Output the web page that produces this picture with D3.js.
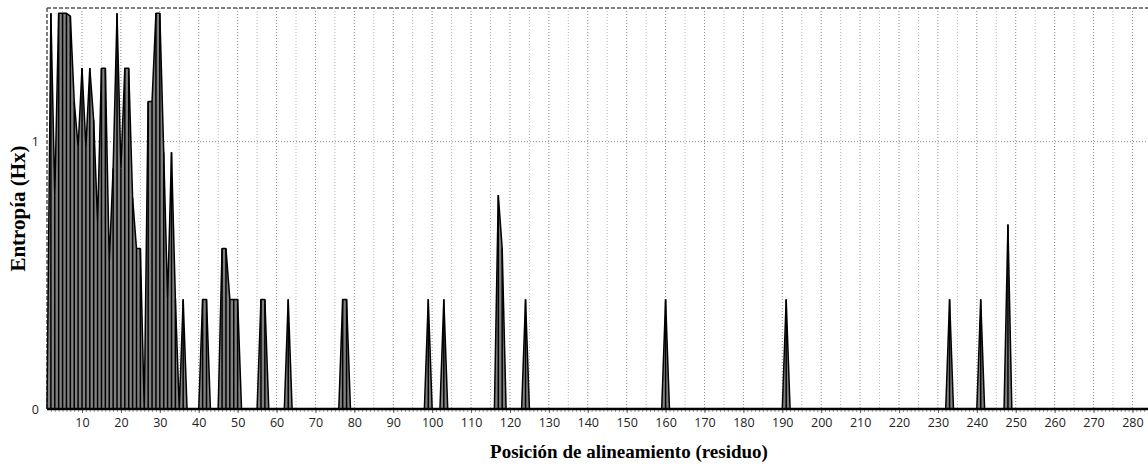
<!DOCTYPE html>
<html lang="en">

<head>
    <meta charset="UTF-8">
    <script src="https://cdn.jsdelivr.net/npm/d3@7"></script>
    <title>Entropia</title>
    <style>
        body {
            margin: 0;
            background: white;
        }

        .tick text {
            font-family: "Open Sans", sans-serif;
            font-size: 12.5px;
            fill: #222;
        }

        .title {
            font-family: "Liberation Serif", "Times New Roman", serif;
            font-weight: bold;
            font-size: 19px;
            fill: black;
        }
    </style>
</head>

<body>
    <div class="fig1"></div>

    <script>
        // posiciones del alineamiento (solo las que rodean picos, el resto es 0)
        const positions = [1, 2, 3, 4, 5, 6, 7, 8, 9, 10, 11, 12, 13, 14, 15, 16, 17, 18, 19, 20,
            21, 22, 23, 24, 25, 26, 27, 28, 29, 30, 31, 32, 33, 34, 35, 36, 37,
            40, 41, 42, 43, 45, 46, 47, 48, 49, 50, 51, 55, 56, 57, 58, 62, 63, 64,
            76, 77, 78, 79, 98, 99, 100, 102, 103, 104, 116, 117, 118, 119, 123, 124, 125,
            159, 160, 161, 190, 191, 192, 232, 233, 234, 240, 241, 242, 247, 248, 249, 284];

        const entropy = [0, 1.48, 0.8, 1.48, 1.48, 1.48, 1.47, 1.15, 0.98, 1.275, 0.98, 1.275, 1.08, 0.7, 1.275, 1.275, 0.55, 0.9, 1.48, 0.9,
            1.275, 1.275, 0.79, 0.6, 0.6, 0, 1.15, 1.15, 1.48, 1.48, 0.96, 0.41, 0.96, 0.41, 0, 0.41, 0,
            0, 0.41, 0.41, 0, 0, 0.6, 0.6, 0.41, 0.41, 0.41, 0, 0, 0.41, 0.41, 0, 0, 0.41, 0,
            0, 0.41, 0.41, 0, 0, 0.41, 0, 0, 0.41, 0, 0, 0.8, 0.6, 0, 0, 0.41, 0,
            0, 0.41, 0, 0, 0.41, 0, 0, 0.41, 0, 0, 0.41, 0, 0, 0.69, 0, 0];

        const xTicks = [10, 20, 30, 40, 50, 60, 70, 80, 90, 100, 110, 120, 130, 140, 150, 160, 170, 180, 190, 200,
            210, 220, 230, 240, 250, 260, 270, 280];
        const yTicks = [0, 1];

        const xLabel = "Posición de alineamiento (residuo)";
        const yLabel = "Entropía (Hx)";

        const width = 1148;
        const height = 469;

        const data = positions.map((p, i) => ({ p: p, v: entropy[i] }));

        const svg = d3.select(".fig1").append("svg")
            .attr("width", width)
            .attr("height", height);

        const x = d3.scaleLinear().domain([1, 284]).range([47, 1148]);
        const y = d3.scaleLinear().domain([0, 1.5]).range([409, 8]);

        // rejilla vertical cada 5
        svg.append("g")
            .selectAll("line")
            .data(d3.range(5, 284, 5))
            .enter()
            .append("line")
            .attr("x1", d => x(d)).attr("x2", d => x(d))
            .attr("y1", y(1.5)).attr("y2", y(0))
            .attr("stroke", d => d % 10 == 0 ? "#8a8a8a" : "#b5b5b5")
            .attr("stroke-width", 1)
            .attr("stroke-dasharray", "1,2");

        // rejilla horizontal
        svg.append("line")
            .attr("x1", x(1)).attr("x2", width)
            .attr("y1", y(1)).attr("y2", y(1))
            .attr("stroke", "#8a8a8a")
            .attr("stroke-dasharray", "1,2");

        // borde punteado
        svg.append("line")
            .attr("x1", x(1)).attr("x2", width)
            .attr("y1", y(1.5)).attr("y2", y(1.5))
            .attr("stroke", "#555")
            .attr("stroke-width", 1.5)
            .attr("stroke-dasharray", "4,2");
        svg.append("line")
            .attr("x1", x(1)).attr("x2", x(1))
            .attr("y1", y(1.5)).attr("y2", y(0))
            .attr("stroke", "#555")
            .attr("stroke-width", 1.5)
            .attr("stroke-dasharray", "4,2");

        const area = d3.area()
            .x(d => x(d.p))
            .y0(y(0))
            .y1(d => y(d.v));

        const line = d3.line()
            .x(d => x(d.p))
            .y(d => y(d.v));

        svg.append("path")
            .datum(data)
            .attr("d", area)
            .attr("fill", "#808080");

        // lineas verticales en cada posicion
        svg.append("g")
            .selectAll("line")
            .data(data.filter(d => d.v > 0))
            .enter()
            .append("line")
            .attr("x1", d => x(d.p)).attr("x2", d => x(d.p))
            .attr("y1", d => y(d.v)).attr("y2", y(0))
            .attr("stroke", "black")
            .attr("stroke-width", 1.5);

        svg.append("path")
            .datum(data)
            .attr("d", line)
            .attr("fill", "none")
            .attr("stroke", "black")
            .attr("stroke-width", 1.5)
            .attr("stroke-linejoin", "bevel");

        // eje x
        svg.append("g")
            .attr("transform", `translate(0,${y(0)})`)
            .call(d3.axisBottom(x).tickValues(d3.range(2, 284, 1)).tickSize(3).tickFormat(""))
            .call(g => g.select(".domain").remove())
            .call(g => g.selectAll(".tick line").attr("stroke", "#999"));

        svg.append("g")
            .attr("transform", `translate(0,${y(0)})`)
            .call(d3.axisBottom(x).tickValues(xTicks).tickSize(4).tickPadding(5))
            .call(g => g.select(".domain").remove())
            .call(g => g.selectAll(".tick line").attr("stroke", "#666"));

        svg.append("line")
            .attr("x1", x(1)).attr("x2", width)
            .attr("y1", y(0)).attr("y2", y(0))
            .attr("stroke", "black")
            .attr("stroke-width", 2.5);

        // eje y
        svg.append("g")
            .attr("transform", `translate(${x(1)},0)`)
            .call(d3.axisLeft(y).tickValues(yTicks).tickSize(0).tickPadding(8).tickFormat(d3.format("d")))
            .call(g => g.select(".domain").remove());

        svg.append("text")
            .attr("class", "title")
            .attr("x", 629)
            .attr("y", 458)
            .attr("text-anchor", "middle")
            .text(xLabel);

        svg.append("text")
            .attr("class", "title")
            .style("font-size", "21px")
            .attr("transform", `translate(25,${(y(0) + y(1.5)) / 2}) rotate(-90)`)
            .attr("text-anchor", "middle")
            .text(yLabel);
    </script>
</body>

</html>
